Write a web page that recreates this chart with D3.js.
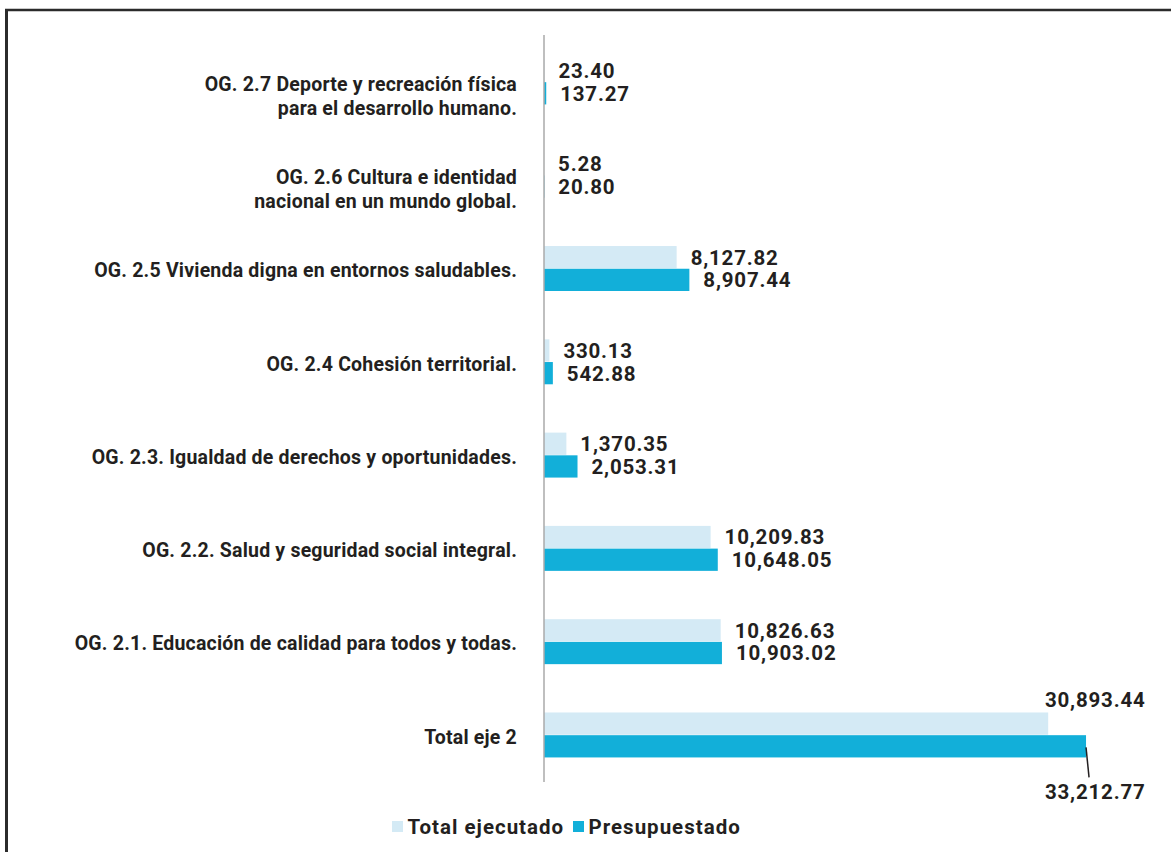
<!DOCTYPE html>
<html><head><meta charset="utf-8">
<script src="https://cdn.jsdelivr.net/npm/d3@7"></script>
<style>
html,body{margin:0;padding:0;background:#fff;}
text{font-family:Roboto,"Noto Sans",sans-serif;font-weight:700;fill:#231f20;}
</style></head>
<body>
<svg id="c" width="1171" height="852"></svg>
<script>
const categories = [
  "OG. 2.7 Deporte y recreación física|para el desarrollo humano.",
  "OG. 2.6 Cultura e identidad|nacional en un mundo global.",
  "OG. 2.5 Vivienda digna en entornos saludables.",
  "OG. 2.4 Cohesión territorial.",
  "OG. 2.3. Igualdad de derechos y oportunidades.",
  "OG. 2.2. Salud y seguridad social integral.",
  "OG. 2.1. Educación de calidad para todos y todas.",
  "Total eje 2"
];
const seriesNames = ["Total ejecutado", "Presupuestado"];
const ejecutado = [23.40, 5.28, 8127.82, 330.13, 1370.35, 10209.83, 10826.63, 30893.44];
const presupuestado = [137.27, 20.80, 8907.44, 542.88, 2053.31, 10648.05, 10903.02, 33212.77];
const colors = ["#d4eaf5", "#12afd9"];

const svg = d3.select("#c");
const fmt = d3.format(",.2f");

// frame (top and left edges)
svg.append("line").attr("x1",5).attr("x2",1171).attr("y1",10).attr("y2",10)
  .attr("stroke","#2b2b2b").attr("stroke-width",2.5);
svg.append("line").attr("x1",6.5).attr("x2",6.5).attr("y1",9).attr("y2",852)
  .attr("stroke","#2b2b2b").attr("stroke-width",3);

const y = d3.scaleBand().domain(categories).range([35.3, 781.6])
  .paddingInner(0.518).paddingOuter(0.259);
const ys = d3.scaleBand().domain(seriesNames).range([0, y.bandwidth()]).paddingInner(0.02);
const x = d3.scaleLinear().domain([0, 35000]).range([544, 1115.2]);

const rows = categories.map((c,i)=>({cat:c, vals:[ejecutado[i], presupuestado[i]], i}));

const g = svg.append("g");
rows.forEach(r=>{
  r.vals.forEach((v,k)=>{
    g.append("rect")
      .attr("x", x(0)).attr("y", y(r.cat)+ys(seriesNames[k]))
      .attr("width", x(v)-x(0)).attr("height", ys.bandwidth())
      .attr("fill", colors[k]);
  });
});

// axis line
svg.append("line").attr("x1",x(0)).attr("x2",x(0)).attr("y1",35).attr("y2",782)
  .attr("stroke","#aaaaaa").attr("stroke-width",1.5);

// category labels
rows.forEach(r=>{
  const lines = r.cat.split("|");
  const cy = y(r.cat)+y.bandwidth()/2;
  const t = svg.append("text").attr("text-anchor","end").attr("font-size",19.5)
    .attr("letter-spacing",0.2);
  lines.forEach((ln,j)=>{
    t.append("tspan").attr("x",517).attr("y", cy + 2 + j*24).attr("dy","0.35em").text(ln);
  });
});

// value labels
const last = rows.length-1;
rows.forEach(r=>{
  r.vals.forEach((v,k)=>{
    const by = y(r.cat)+ys(seriesNames[k])+ys.bandwidth()/2;
    let tx = x(v)+14, ty = by;
    if (r.i===last){
      tx = 1045;
      ty = k===0 ? by-24 : by+45;
    }
    svg.append("text").attr("x",tx).attr("y",ty).attr("dy","0.36em")
      .attr("font-size",20.5).attr("letter-spacing",0.8).text(fmt(v));
  });
});
// leader line for total presupuestado
{
  const r = rows[last];
  const by = y(r.cat)+ys(seriesNames[1]);
  svg.append("line").attr("x1",x(presupuestado[last])).attr("y1",by+ys.bandwidth()-10)
    .attr("x2",x(presupuestado[last])+3).attr("y2",by+ys.bandwidth()+20)
    .attr("stroke","#231f20").attr("stroke-width",1.5);
}

// legend
const lg = svg.append("g");
const legendItems = [{name:seriesNames[0], x:392, c:colors[0]},{name:seriesNames[1], x:573, c:colors[1]}];
legendItems.forEach(it=>{
  lg.append("rect").attr("x",it.x).attr("y",821).attr("width",11).attr("height",11).attr("fill",it.c);
  lg.append("text").attr("x",it.x+15.5).attr("y",826.5).attr("dy","0.36em")
    .attr("font-size",20.5).attr("letter-spacing",1.0).text(it.name);
});
</script>
</body></html>
